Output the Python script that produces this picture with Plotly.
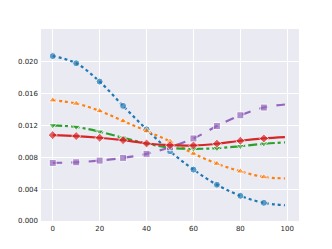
import plotly.graph_objects as go

x_vals = [0, 10, 20, 30, 40, 50, 60, 70, 80, 90, 99]
blue = [0.0207, 0.0198, 0.0175, 0.01445, 0.0115, 0.00876, 0.00645, 0.00455, 0.00316, 0.00228, 0.00198]
orange = [0.01517, 0.01475, 0.01382, 0.01255, 0.01129, 0.0100, 0.00847, 0.0072, 0.00624, 0.00552, 0.00535]
green = [0.0120, 0.0118, 0.01121, 0.01045, 0.00973, 0.00919, 0.00906, 0.00914, 0.00939, 0.0097, 0.00986]
red = [0.01078, 0.01066, 0.01045, 0.01015, 0.00973, 0.00952, 0.00948, 0.0097, 0.01007, 0.01036, 0.01053]
purple = [0.00729, 0.00737, 0.00758, 0.00792, 0.00843, 0.00927, 0.01036, 0.01192, 0.01327, 0.01424, 0.01462]

y_ticks = [0.0, 0.004, 0.008, 0.012, 0.016, 0.020]
x_ticks = [0, 20, 40, 60, 80, 100]

series = [
    (blue, "#1f77b4", "dot", "circle"),
    (orange, "#ff7f0e", "dot", "triangle-up"),
    (green, "#2ca02c", "dashdot", "triangle-down"),
    (purple, "#9467bd", "dash", "square"),
    (red, "#d62728", "solid", "diamond"),
]

fig = go.Figure()
for vals, color, dash, sym in series:
    sizes = [7] * (len(x_vals) - 1) + [0]
    fig.add_trace(go.Scatter(
        x=x_vals, y=vals, mode="lines+markers",
        line=dict(color=color, dash=dash, width=2.2, shape="spline"),
        marker=dict(symbol=sym, size=sizes, color=color),
        showlegend=False, hoverinfo="skip",
    ))

fig.update_layout(
    width=332, height=249,
    margin=dict(l=41, r=33, t=29, b=28),
    paper_bgcolor="white",
    plot_bgcolor="#EAEAF2",
    font=dict(family="DejaVu Sans", size=7, color="#262626"),
)
fig.update_xaxes(
    range=[-5, 105], tickvals=x_ticks, ticks="", showgrid=True,
    gridcolor="white", gridwidth=1, zeroline=False, showline=False,
    ticklabelstandoff=2, automargin=False,
)
fig.update_yaxes(
    range=[0, 0.0241], tickvals=y_ticks, tickformat=".3f", ticks="",
    showgrid=True, gridcolor="white", gridwidth=1, zeroline=False, showline=False,
    ticklabelstandoff=2, automargin=False,
)
fig.write_html(
    "out.html",
    config={"displayModeBar": False},
    post_script="document.body.style.margin='0';document.body.style.overflow='hidden';",
)
